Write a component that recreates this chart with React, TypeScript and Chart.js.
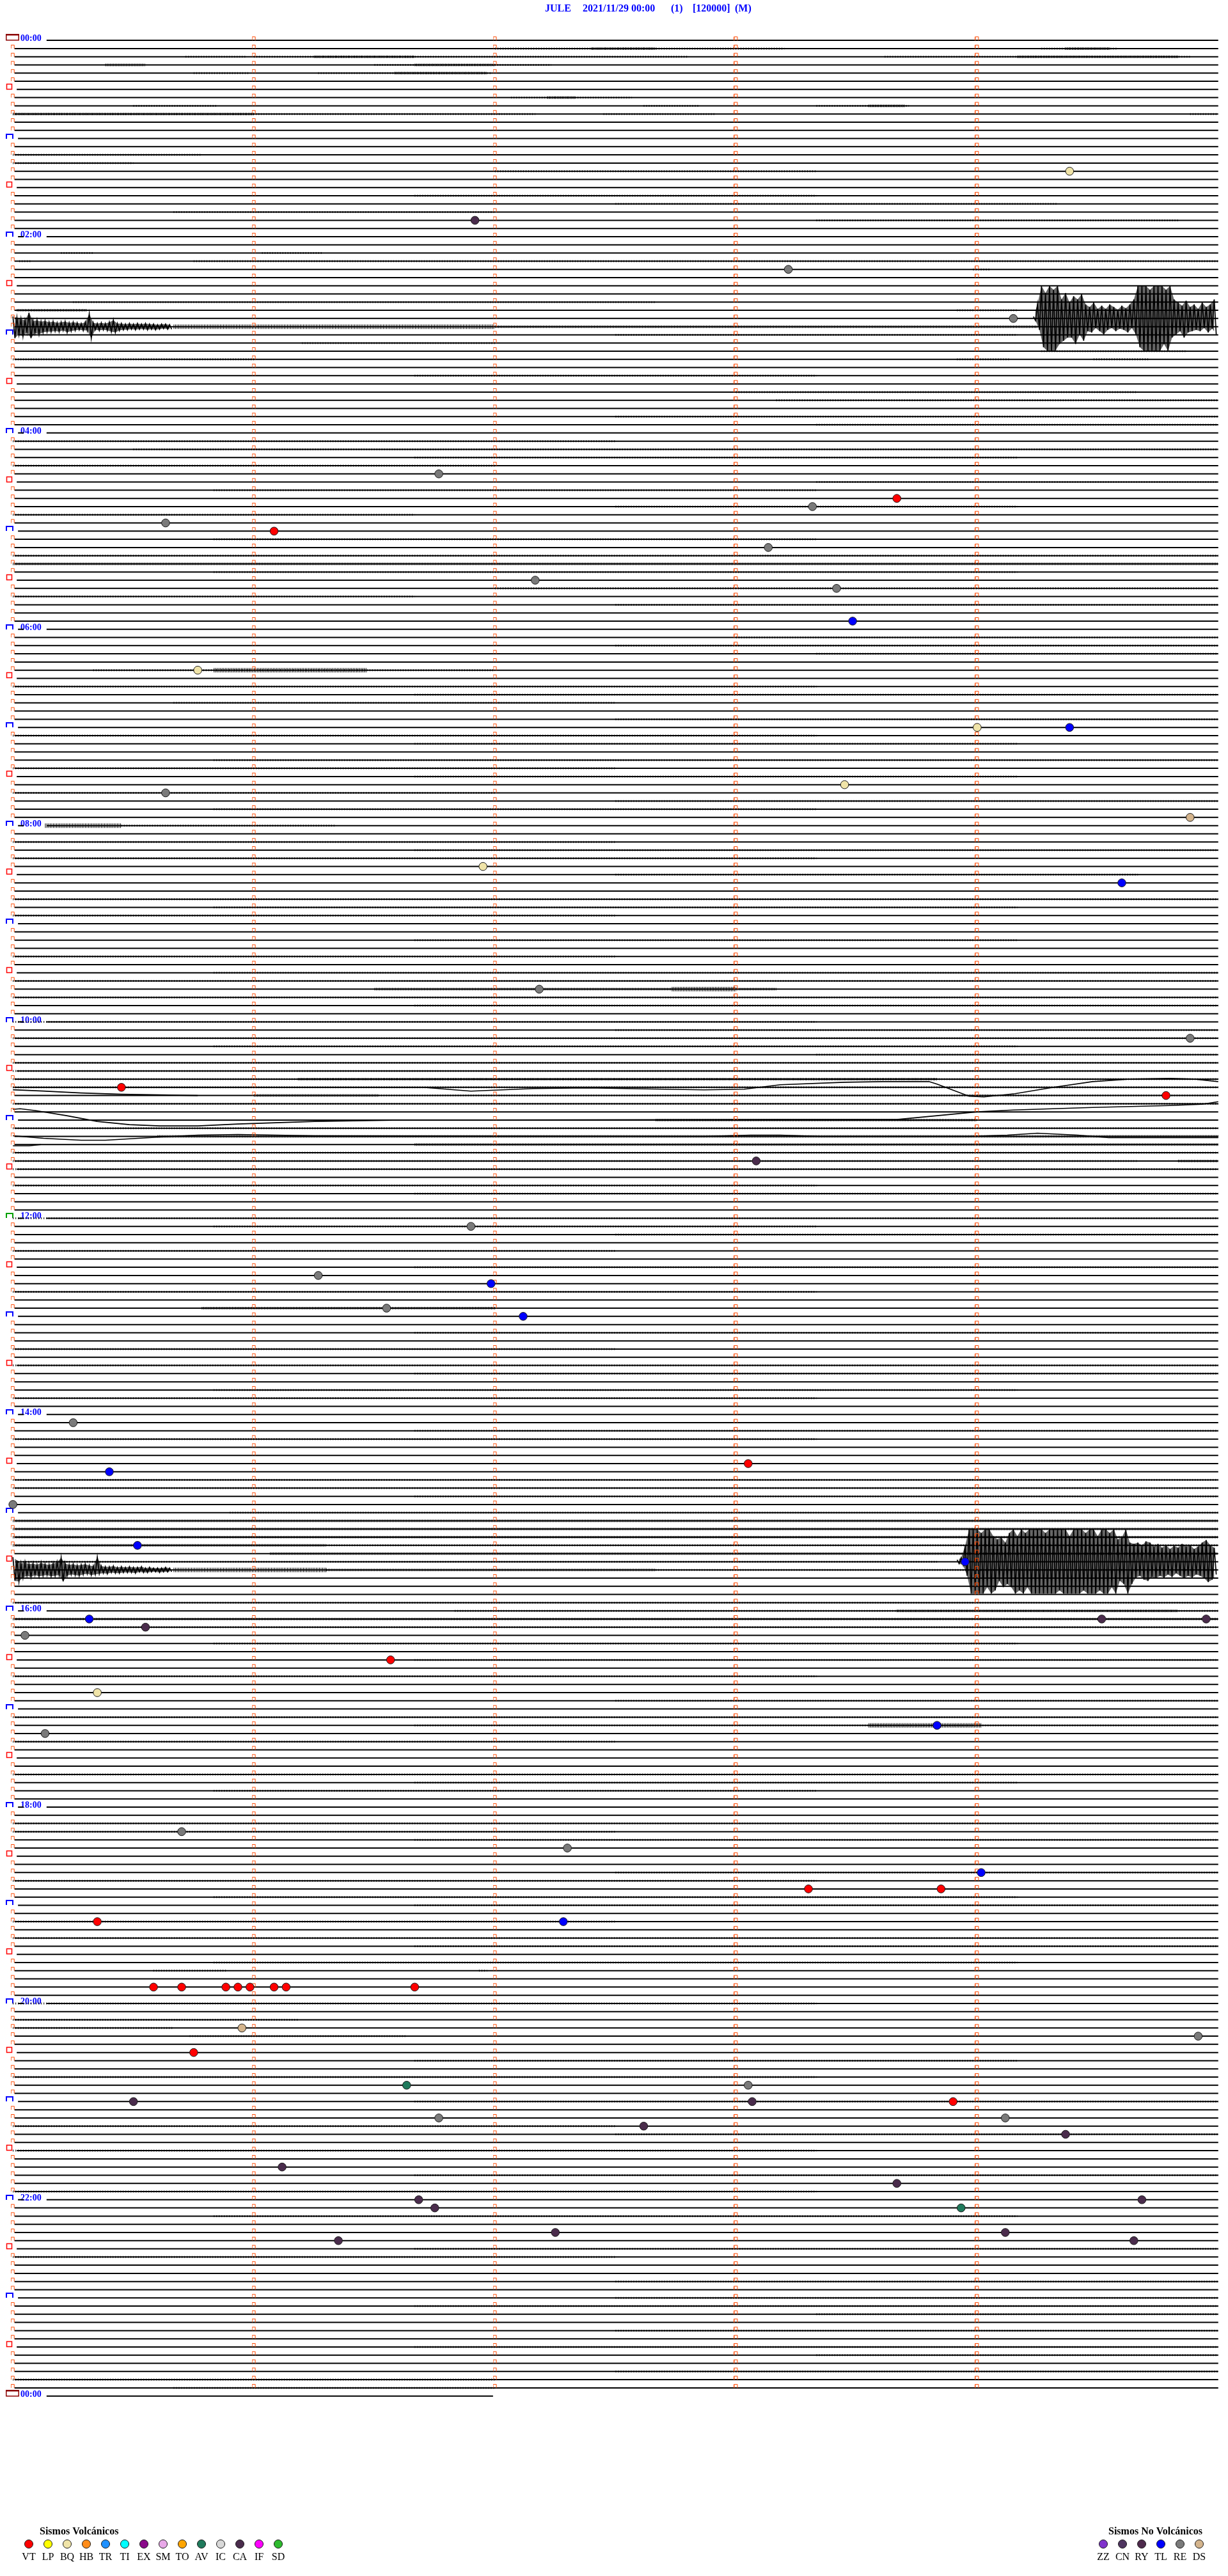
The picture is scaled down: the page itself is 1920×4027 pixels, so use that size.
import { useEffect, useRef } from "react";
import { Chart, registerables } from "chart.js";

Chart.register(...registerables);

// ---------------- data ----------------
const TITLE_PARTS = ["JULE", "2021/11/29 00:00", "(1)", "[120000]", "(M)"];
const HOUR_LABELS = ["00:00", "02:00", "04:00", "06:00", "08:00", "10:00", "12:00", "14:00", "16:00", "18:00", "20:00", "22:00", "00:00"];

const SECONDS_PER_LINE = 300;
const LINE_COUNT = 288;
const LAST_LINE_SECONDS = 119.5;
const MINUTE_MARKS_S = [0, 60, 120, 180, 240];

const VOLCANIC_CODES = ["VT", "LP", "BQ", "HB", "TR", "TI", "EX", "SM", "TO", "AV", "IC", "CA", "IF", "SD"];
const VOLCANIC_COLORS = ["#FF0000", "#FFFF00", "#F0E4A8", "#FF8C1A", "#1E90FF", "#00FFFF", "#8B0A8B", "#E8A8E8", "#FFA500", "#1F7A5C", "#D8D8D8", "#4A2C4C", "#FF00FF", "#2EBB2E"];
const NON_VOLCANIC_CODES = ["ZZ", "CN", "RY", "TL", "RE", "DS"];
const NON_VOLCANIC_COLORS = ["#8033CC", "#4F3560", "#4E2A4C", "#0000FF", "#7A7A7A", "#D4B48C"];

const EVENT_TIMES = [
  "01:24:23", "01:51:55", "02:23:13", "02:54:09", "04:26:46", "04:43:40", "04:48:19", "04:55:38", "05:01:05", "05:13:08",
  "05:32:10", "05:38:25", "05:58:29", "06:25:46", "07:04:00", "07:04:23", "07:38:27", "07:40:38", "07:59:53", "08:26:57",
  "08:39:36", "09:42:11", "10:14:53", "10:40:27", "10:49:47", "11:28:05", "12:06:54", "12:36:16", "12:41:59", "12:56:33",
  "13:02:07", "14:05:15", "14:33:03", "14:35:24", "14:55:00", "15:20:31", "15:33:57", "16:05:19", "16:09:31", "16:09:57",
  "16:10:33", "16:15:03", "16:31:34", "16:50:21", "17:13:50", "17:15:08", "18:15:42", "18:27:18", "18:44:01", "18:53:18",
  "18:53:51", "19:10:21", "19:12:17", "19:50:35", "19:50:42", "19:50:53", "19:50:56", "19:50:59", "19:51:05", "19:51:08",
  "19:51:40", "20:15:57", "20:24:55", "20:30:45", "20:51:38", "20:53:03", "21:00:30", "21:03:04", "21:03:54", "21:11:46",
  "21:14:07", "21:17:37", "21:24:22", "21:41:07", "21:53:40", "22:01:41", "22:04:41", "22:06:45", "22:08:56", "22:22:15",
  "22:24:07", "22:26:21", "22:29:39",
];
const EVENT_CODES = [
  "BQ", "CA", "RE", "RE", "RE", "VT", "RE", "RE", "VT", "RE",
  "RE", "RE", "TL", "BQ", "BQ", "TL", "BQ", "RE", "DS", "BQ",
  "TL", "RE", "RE", "VT", "VT", "CA", "RE", "RE", "TL", "RE",
  "TL", "RE", "VT", "TL", "RE", "TL", "TL", "TL", "CA", "CA",
  "CA", "RE", "VT", "BQ", "TL", "RE", "RE", "RE", "TL", "VT",
  "VT", "VT", "TL", "VT", "VT", "VT", "VT", "VT", "VT", "VT",
  "VT", "DS", "RE", "VT", "AV", "RE", "CA", "CA", "VT", "RE",
  "RE", "CA", "CA", "CA", "CA", "CA", "CA", "CA", "AV", "CA",
  "CA", "CA", "CA",
];

// Large events: amplitude per second (up / down), in trace units (1 unit = 1 px of trace)
const BURST_1_LINE = 34;
const BURST_1_START_S = 254;
const BURST_1_UP = [3, 22, 51, 40, 51, 45, 51, 30, 40, 25, 35, 30, 38, 22, 18, 25, 15, 20, 15, 22, 18, 14, 20, 16, 22, 30, 51, 51, 51, 45, 51, 51, 51, 45, 51, 30, 25, 20, 28, 18, 22, 15, 25, 18, 22, 30];
const BURST_1_DOWN = [3, 18, 45, 51, 51, 50, 40, 35, 30, 30, 40, 25, 35, 20, 22, 15, 20, 25, 18, 15, 20, 16, 18, 22, 15, 25, 45, 51, 51, 51, 51, 51, 40, 51, 30, 25, 20, 30, 22, 20, 18, 20, 15, 22, 16, 25];

const CODA_1_LINE = 35;
const CODA_1_START_S = 0;
const CODA_1_UP = [16, 14, 12, 10, 22, 9, 10, 8, 9, 7, 8, 6, 7, 8, 6, 7, 6, 5, 7, 20, 6, 5, 6, 5, 7, 10, 5, 5, 4, 5, 4, 5, 4, 5, 4, 4, 3, 4, 4, 3];
const CODA_1_DOWN = [18, 12, 15, 9, 18, 10, 12, 9, 8, 8, 7, 8, 6, 9, 7, 6, 5, 6, 6, 18, 5, 6, 5, 6, 8, 9, 6, 5, 5, 4, 5, 4, 4, 5, 4, 5, 4, 3, 4, 4];

const BURST_2_LINE = 186;
const BURST_2_START_S = 235;
const BURST_2_UP = [3, 6, 25, 51, 51, 51, 45, 51, 51, 40, 35, 38, 30, 45, 51, 40, 51, 45, 51, 51, 51, 51, 45, 51, 51, 51, 51, 51, 40, 51, 51, 51, 45, 51, 51, 40, 51, 51, 45, 51, 35, 38, 51, 30,
  28, 30, 25, 32, 30, 24, 28, 22, 26, 20, 25, 22, 28, 24, 26, 20, 24, 30, 34, 26, 22];
const BURST_2_DOWN = [3, 5, 22, 50, 50, 50, 50, 40, 50, 45, 30, 40, 35, 40, 50, 45, 50, 40, 50, 50, 50, 50, 50, 50, 50, 45, 50, 50, 50, 50, 50, 45, 50, 50, 50, 45, 50, 50, 40, 50, 30, 35, 50, 35,
  25, 22, 28, 30, 24, 26, 22, 25, 20, 24, 18, 22, 26, 22, 25, 20, 22, 26, 32, 28, 20];

const CODA_2_LINE = 187;
const CODA_2_START_S = 0;
const CODA_2_UP = [20, 15, 10, 12, 9, 10, 8, 11, 9, 8, 10, 12, 19, 10, 8, 9, 7, 8, 9, 7, 6, 20, 6, 5, 5, 6, 4, 5, 4, 5, 4, 4, 5, 3, 4, 3, 3, 3, 4, 3];
const CODA_2_DOWN = [17, 18, 12, 9, 11, 8, 10, 9, 8, 10, 9, 8, 18, 9, 7, 8, 9, 7, 6, 8, 7, 6, 5, 6, 4, 5, 5, 4, 4, 4, 5, 3, 4, 4, 3, 3, 4, 3, 3, 3];

// Long-period drifts: [seconds, amplitude up]
const DRIFT_128: [number, number][] = [[0, 0], [102, 0], [114, -6], [129.5, -2], [143, -1], [172, -4], [182, -3], [191, 4], [207, 8], [216.5, 9], [228, 9], [230, 5], [238, -14], [241.7, -15], [249.4, -10], [259, 0], [268.7, 9], [278, 13], [288, 14], [294, 13], [300, 9]];
const DRIFT_129: [number, number][] = [[0, 9], [7.6, 7], [17, 4], [27, 2], [36.6, 1], [46, 0]];
const DRIFT_131: [number, number][] = [[0, 4], [1.8, 5], [5.7, 2], [13.4, -6], [21, -15], [29, -20], [36.6, -22], [46, -22], [56, -19], [75, -15], [94.6, -13], [191, -12], [220, -12], [240, 0], [249, 3], [268.7, 7], [288, 10], [296, 12], [300, 16]];
const DRIFT_134: [number, number][] = [[0, 1], [7.6, -3], [17, -6], [23, -6], [36.6, -1], [46, 2], [56, 3], [75, 1], [172, 0], [183.6, 2], [191, 2], [201, 0], [238, 0], [247.5, 2], [255, 5], [265, 2], [272.7, -2], [300, -2]];
const DRIFT_135: [number, number][] = [[0, -2], [4, -2], [7, 0]];
const DRIFT_LINES = [128, 129, 131, 134, 135];
const DRIFTS = [DRIFT_128, DRIFT_129, DRIFT_131, DRIFT_134, DRIFT_135];

// Background noise bands: [line, from s, to s, level]
const NOISE_BANDS: [number, number, number, number][] = [
  [1, 120, 192, 1], [1, 144, 160, 2], [1, 256, 275, 1], [1, 262, 273, 2],
  [2, 43, 58, 1], [2, 60, 168, 1], [2, 75, 100, 2], [2, 217, 293, 1], [2, 250, 290, 2],
  [3, 23, 33, 2], [3, 90, 134, 1], [3, 100, 120, 2],
  [4, 45, 59, 1], [4, 76, 119, 1], [4, 95, 118, 2],
  [7, 124, 154, 1], [7, 133, 140, 2],
  [8, 30, 51, 1], [8, 157, 171, 1], [8, 200, 223, 1], [8, 213, 222, 2],
  [9, 0, 130, 1], [9, 0, 60, 2], [9, 147, 175, 1], [9, 293, 300, 1],
  [14, 0, 47, 1], [15, 0, 30, 1], [16, 120, 200, 1], [19, 100, 200, 1], [20, 150, 260, 1], [21, 40, 120, 1], [22, 200, 290, 1],
  [26, 12, 20, 1], [26, 62, 77, 1], [27, 1.6, 4.5, 1], [27, 45, 300, 1], [28, 239, 243, 1],
  [32, 15, 160, 1], [33, 1, 18.5, 2], [33, 235, 250, 1], [35, 40, 120, 3], [35, 120, 255, 2], [36, 150, 250, 1], [37, 72, 120, 1],
  [38, 256, 292, 1], [39, 0, 60, 1], [39, 235, 248, 1], [39, 269, 283, 1],
  [41, 100, 200, 1], [43, 180, 280, 1], [44, 190, 300, 1], [46, 150, 300, 1], [47, 200, 300, 1],
  [49, 0, 150, 1], [50, 30, 300, 1], [51, 100, 250, 1], [52, 0, 120, 1], [54, 200, 300, 1], [55, 50, 200, 1], [57, 150, 250, 1], [58, 0, 100, 1],
  [61, 50, 200, 1], [63, 0, 300, 1], [64, 0, 300, 2], [65, 50, 250, 1], [67, 120, 300, 1], [68, 0, 100, 1], [69, 150, 300, 1],
  [73, 180, 300, 1], [74, 150, 300, 1], [75, 200, 300, 1], [77, 20, 120, 1], [77, 50, 88, 3], [79, 0, 200, 1], [80, 100, 300, 1], [81, 40, 150, 1], [83, 150, 300, 1],
  [85, 0, 200, 1], [86, 100, 250, 1], [88, 50, 300, 1], [89, 0, 150, 1], [90, 100, 250, 1], [92, 0, 120, 1], [93, 150, 300, 1], [94, 50, 200, 1], [96, 27, 80, 1], [96, 8, 27, 3],
  [98, 0, 150, 1], [99, 100, 300, 1], [100, 0, 200, 1], [102, 150, 280, 1], [105, 0, 300, 1], [106, 50, 250, 1], [107, 0, 150, 1],
  [110, 100, 250, 1], [112, 0, 150, 1], [114, 50, 300, 1], [115, 0, 300, 1], [116, 90, 190, 2], [116, 164, 180, 3], [117, 0, 300, 1], [118, 100, 300, 1],
  [120, 0, 200, 1], [121, 150, 300, 1], [122, 0, 300, 1], [123, 50, 250, 1], [124, 200, 300, 1], [125, 0, 300, 1],
  [126, 0, 300, 1], [127, 0, 300, 1], [127, 71, 230, 2], [128, 0, 300, 1], [129, 60, 91, 2], [129, 91, 300, 1], [130, 0, 300, 1], [132, 160, 240, 2],
  [133, 0, 300, 1], [134, 36, 300, 2], [135, 100, 300, 2], [136, 0, 300, 1], [137, 0, 280, 1], [137, 290, 300, 2], [138, 0, 300, 1],
  [140, 0, 200, 1], [141, 100, 300, 1], [144, 0, 300, 1], [145, 50, 200, 1], [146, 150, 300, 1], [148, 0, 150, 1], [150, 100, 300, 1], [153, 0, 200, 1], [155, 47, 120, 2],
  [158, 100, 300, 1], [160, 0, 150, 1], [162, 0, 300, 1], [163, 100, 300, 1], [165, 50, 250, 1], [166, 0, 200, 1], [170, 100, 300, 1], [171, 0, 200, 1],
  [176, 0, 300, 1], [177, 0, 300, 1], [178, 100, 300, 1],
  [180, 54, 300, 1], [181, 0, 300, 2], [182, 0, 300, 2], [183, 0, 300, 2], [184, 0, 78, 2], [184, 78, 300, 1], [185, 64, 300, 2], [186, 0, 230, 1],
  [187, 40, 78, 3], [187, 78, 160, 2], [187, 160, 300, 1], [191, 0, 300, 1], [192, 110, 300, 1], [192, 220, 290, 2], [193, 0, 300, 2], [194, 0, 300, 1],
  [196, 50, 250, 1], [198, 100, 300, 1], [200, 0, 200, 1], [203, 150, 300, 1], [205, 0, 300, 1], [206, 100, 300, 1], [206, 213, 241, 3], [208, 0, 150, 1],
  [212, 0, 300, 1], [213, 100, 250, 1], [214, 50, 200, 1],
  [218, 0, 300, 1], [219, 0, 150, 1], [220, 100, 300, 1], [224, 150, 300, 1], [225, 0, 200, 1], [227, 50, 250, 1], [228, 100, 300, 1], [230, 0, 150, 1],
  [232, 0, 300, 1], [233, 100, 300, 1], [235, 50, 250, 1],
  [236, 35, 53, 1], [236, 116, 118, 1], [240, 0, 200, 1], [242, 0, 71, 1], [243, 0, 40, 1], [244, 44, 98, 1], [247, 100, 250, 1],
  [249, 0, 200, 1], [252, 100, 300, 1], [255, 0, 150, 1], [256, 150, 300, 1], [258, 0, 200, 1], [261, 100, 300, 1], [263, 0, 200, 1], [266, 50, 250, 1],
  [270, 100, 300, 1], [271, 0, 150, 1], [274, 150, 300, 1], [276, 150, 300, 1], [277, 100, 300, 1], [278, 200, 300, 1], [280, 150, 300, 1],
  [282, 100, 300, 1], [283, 200, 300, 1], [285, 150, 300, 1], [286, 0, 120, 1], [287, 40, 120, 1],
];

// ---------------- layout ----------------
const W = 1920;
const H = 4027;
const X_T0_PX = 13;
const PX_PER_S = 6.33;
const Y_LINE0_PX = 56;
const PX_PER_LINE = (3752 - 56) / 288;
const TITLE_X = [852, 911, 1049, 1083, 1149];
const SERIF = '"Liberation Serif", "Times New Roman", serif';

const pxToS = (px: number) => (px - X_T0_PX) / PX_PER_S;
const ampToLine = (line: number, upPx: number) => line - upPx / PX_PER_LINE;

function parseTime(s: string) {
  const [h, m, sec] = s.split(":").map(Number);
  return h * 3600 + m * 60 + sec;
}

function makeMinuteMarker() {
  const c = document.createElement("canvas");
  c.width = 7;
  c.height = 14;
  const g = c.getContext("2d")!;
  g.strokeStyle = "#FF4800";
  g.lineWidth = 1;
  g.beginPath();
  g.moveTo(0.5, 7);
  g.lineTo(0.5, 1.5);
  g.lineTo(5.5, 1.5);
  g.lineTo(5.5, 7);
  g.stroke();
  return c;
}

function zigzag(line: number, start: number, up: number[], down: number[]) {
  const pts: { x: number; y: number }[] = [];
  up.forEach((u, i) => {
    pts.push({ x: start + i, y: ampToLine(line, u) });
    pts.push({ x: start + i + 0.5, y: ampToLine(line, -down[i]) });
  });
  return pts;
}

function envelope(line: number, start: number, amps: number[], sign: number) {
  return amps.map((a, i) => ({ x: start + i + (sign < 0 ? 0.5 : 0), y: ampToLine(line, sign * a) }));
}

const decorPlugin = {
  id: "heliDecor",
  beforeDatasetsDraw(chart: any) {
    const ctx: CanvasRenderingContext2D = chart.ctx;
    const ys = chart.scales.y;
    ctx.save();
    // title
    ctx.fillStyle = "#0000FF";
    ctx.font = `bold 16px ${SERIF}`;
    ctx.textBaseline = "alphabetic";
    ctx.textAlign = "left";
    TITLE_PARTS.forEach((p, i) => ctx.fillText(p, TITLE_X[i], 18));

    // hour / half-hour markers
    for (let i = 0; i <= LINE_COUNT; i += 6) {
      const yy = Math.round(ys.getPixelForValue(i));
      if (i % 12 === 6) {
        ctx.strokeStyle = "#FF0000";
        ctx.lineWidth = 1.5;
        ctx.strokeRect(10.5, yy - 8.5, 8, 8);
        continue;
      }
      const hour = i / 12;
      if (hour % 24 === 0) {
        ctx.strokeStyle = "#8B0000";
        ctx.lineWidth = 1.5;
        ctx.strokeRect(9.75, yy - 9.25, 19.5, 9);
        ctx.fillStyle = "#8B0000";
        ctx.fillRect(9, yy - 10, 21, 2.5);
      } else {
        ctx.strokeStyle = hour === 12 ? "#00A000" : "#0000FF";
        ctx.lineWidth = 2;
        ctx.beginPath();
        ctx.moveTo(10, yy);
        ctx.lineTo(10, yy - 7);
        ctx.lineTo(20, yy - 7);
        ctx.lineTo(20, yy);
        ctx.stroke();
      }
      if (hour % 2 === 0) {
        ctx.fillStyle = "#0000FF";
        ctx.font = `bold 14px ${SERIF}`;
        ctx.fillText(HOUR_LABELS[hour / 2], 32, yy + 0.5);
      }
    }

    // legends
    const drawLegend = (title: string, titleX: number, codes: string[], colors: string[], x0: number) => {
      ctx.fillStyle = "#000";
      ctx.font = `bold 16px ${SERIF}`;
      ctx.textAlign = "left";
      ctx.fillText(title, titleX, 3962);
      codes.forEach((code, k) => {
        const cx = x0 + 30 * k;
        ctx.beginPath();
        ctx.arc(cx, 3977, 6.5, 0, Math.PI * 2);
        ctx.fillStyle = colors[k];
        ctx.fill();
        ctx.lineWidth = 1;
        ctx.strokeStyle = "#1a1a1a";
        ctx.stroke();
        ctx.fillStyle = "#000";
        ctx.font = `16px ${SERIF}`;
        ctx.textAlign = "center";
        ctx.fillText(code, cx, 4002);
      });
    };
    drawLegend("Sismos Volcánicos", 62, VOLCANIC_CODES, VOLCANIC_COLORS, 45);
    drawLegend("Sismos No Volcánicos", 1733, NON_VOLCANIC_CODES, NON_VOLCANIC_COLORS, 1725);
    ctx.restore();
  },
};

export default function App() {
  const ref = useRef<HTMLCanvasElement>(null);

  useEffect(() => {
    const canvas = ref.current!;

    // baselines
    const base: any[] = [];
    const seg = (line: number, a: number, b: number) => {
      base.push({ x: a, y: line }, { x: b, y: line }, { x: b, y: null });
    };
    for (let i = 0; i <= LINE_COUNT; i++) {
      const end = i === LINE_COUNT ? LAST_LINE_SECONDS : SECONDS_PER_LINE;
      if (i % 24 === 0) {
        if (i !== 0 && i !== LINE_COUNT) seg(i, pxToS(21), pxToS(30));
        seg(i, pxToS(66), end);
      } else if (i % 12 === 0) seg(i, pxToS(21), end);
      else if (i % 12 === 6) seg(i, pxToS(19), end);
      else seg(i, pxToS(15.5), end);
    }

    // minute markers
    const marks: any[] = [];
    for (let i = 0; i < LINE_COUNT; i++) {
      MINUTE_MARKS_S.forEach((s) => {
        if (s === 0 && i % 6 === 0) return;
        marks.push({ x: s, y: i });
      });
    }

    // noise
    const noise: any[][] = [[], [], []];
    NOISE_BANDS.forEach(([line, a, b, lvl]) => {
      noise[lvl - 1].push({ x: a, y: line }, { x: b, y: line }, { x: b, y: null });
    });

    const lineDs = (data: any[], extra: any = {}) => ({
      type: "line",
      data,
      borderColor: "#000",
      borderWidth: 1.5,
      pointRadius: 0,
      tension: 0,
      fill: false,
      spanGaps: false,
      order: 2,
      ...extra,
    });

    const waveSets = (line: number, start: number, up: number[], down: number[]) => [
      lineDs(envelope(line, start, up, 1), { borderWidth: 0, fill: "+1", backgroundColor: "rgba(0,0,0,0.6)" }),
      lineDs(envelope(line, start, down, -1), { borderWidth: 0 }),
      lineDs(zigzag(line, start, up, down), { borderWidth: 1.7 }),
    ];

    const allCodes = [...VOLCANIC_CODES, ...NON_VOLCANIC_CODES];
    const allColors = [...VOLCANIC_COLORS, ...NON_VOLCANIC_COLORS];
    const eventSets = allCodes
      .map((code, k) => ({
        type: "scatter",
        label: code,
        data: EVENT_TIMES.filter((_, i) => EVENT_CODES[i] === code).map((ts) => {
          const s = parseTime(ts);
          return { x: s % SECONDS_PER_LINE, y: Math.floor(s / SECONDS_PER_LINE) };
        }),
        pointRadius: 6.3,
        pointBackgroundColor: allColors[k],
        pointBorderColor: "#1a1a1a",
        pointBorderWidth: 1,
        order: 0,
      }))
      .filter((d) => d.data.length > 0);

    const datasets: any[] = [
      ...eventSets,
      {
        type: "scatter",
        data: marks,
        pointStyle: makeMinuteMarker(),
        pointRadius: 3,
        order: 1,
      },
      ...waveSets(BURST_1_LINE, BURST_1_START_S, BURST_1_UP, BURST_1_DOWN),
      ...waveSets(CODA_1_LINE, CODA_1_START_S, CODA_1_UP, CODA_1_DOWN),
      ...waveSets(BURST_2_LINE, BURST_2_START_S, BURST_2_UP, BURST_2_DOWN),
      ...waveSets(CODA_2_LINE, CODA_2_START_S, CODA_2_UP, CODA_2_DOWN),
      ...DRIFTS.map((d, k) => lineDs(d.map(([t, a]) => ({ x: t, y: ampToLine(DRIFT_LINES[k], a) })), { borderWidth: 1.6 })),
      lineDs(noise[0], { borderWidth: 3, borderDash: [1, 3], order: 3 }),
      lineDs(noise[1], { borderWidth: 4, borderDash: [1, 1.5], order: 3 }),
      lineDs(noise[2], { borderWidth: 7, borderDash: [1, 1.5], order: 3 }),
      lineDs(base, { borderWidth: 2, order: 4 }),
    ];

    const chart = new Chart(canvas, {
      type: "line",
      data: { datasets },
      options: {
        animation: false,
        responsive: false,
        devicePixelRatio: 1,
        events: [],
        layout: { padding: 0 },
        scales: {
          x: {
            type: "linear",
            display: false,
            min: -X_T0_PX / PX_PER_S,
            max: (W - X_T0_PX) / PX_PER_S,
          },
          y: {
            type: "linear",
            display: false,
            reverse: true,
            min: -Y_LINE0_PX / PX_PER_LINE,
            max: (H - Y_LINE0_PX) / PX_PER_LINE,
          },
        },
        plugins: {
          legend: { display: false },
          title: { display: false },
          tooltip: { enabled: false },
          filler: { propagate: false },
        },
      } as any,
      plugins: [decorPlugin],
    } as any);

    return () => chart.destroy();
  }, []);

  return (
    <div style={{ position: "absolute", left: 0, top: 0, width: W, height: H, background: "#fff" }}>
      <canvas ref={ref} width={W} height={H} style={{ width: W, height: H, display: "block" }} />
    </div>
  );
}
